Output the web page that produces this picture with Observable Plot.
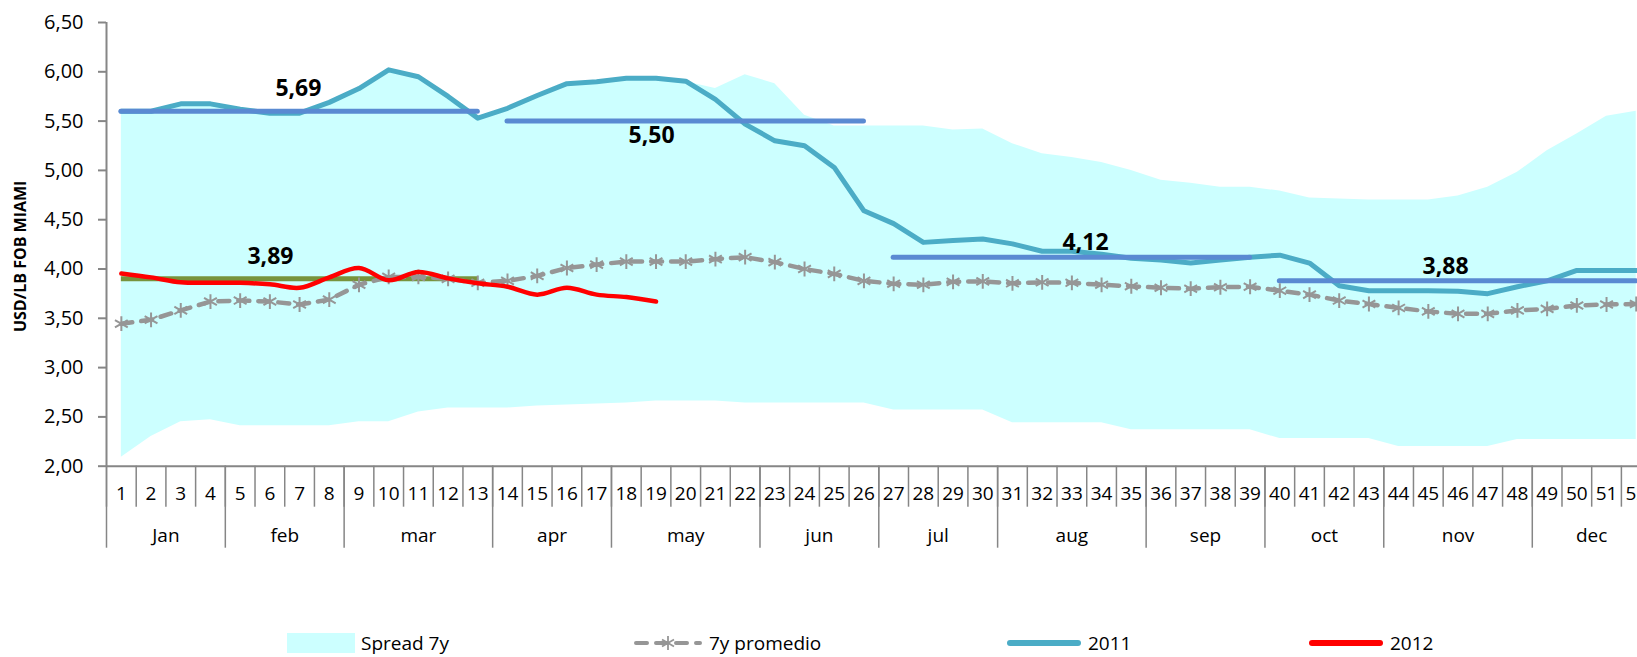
<!DOCTYPE html>
<html>
<head>
<meta charset="utf-8">
<script src="https://cdn.jsdelivr.net/npm/d3@7"></script>
<script src="https://cdn.jsdelivr.net/npm/@observablehq/plot@0.6"></script>
<style>
  html, body { margin: 0; padding: 0; background: white; overflow: hidden; }
  #wrap { position: relative; width: 1637px; height: 657px; overflow: hidden; font-family: 'Open Sans', sans-serif; }
  #legend { position: absolute; left: 0; top: 625px; width: 1637px; height: 32px; }
  .item { position: absolute; top: 4px; height: 28px; display: flex; align-items: center; font-size: 19px; line-height: 22px; color: #000; white-space: nowrap; }
  .item svg { display: block; margin-right: 6px; }
</style>
</head>
<body>
<div id="wrap">
  <div id="chart"></div>
  <div id="legend"></div>
</div>
<script>
// ---- data ----
const weeks = [1,2,3,4,5,6,7,8,9,10,11,12,13,14,15,16,17,18,19,20,21,22,23,24,25,26,
               27,28,29,30,31,32,33,34,35,36,37,38,39,40,41,42,43,44,45,46,47,48,49,50,51,52];
const monthNames = ["Jan","feb","mar","apr","may","jun","jul","aug","sep","oct","nov","dec"];
const monthWeeks = [4,4,5,4,5,4,4,5,4,4,5,4];
const yTicks = [2.0,2.5,3.0,3.5,4.0,4.5,5.0,5.5,6.0,6.5];

const spreadLow = [2.09,2.30,2.45,2.47,2.41,2.41,2.41,2.41,2.45,2.45,
                   2.55,2.59,2.59,2.59,2.61,2.62,2.63,2.64,2.66,2.66,
                   2.66,2.64,2.64,2.64,2.64,2.64,2.57,2.57,2.57,2.57,
                   2.44,2.44,2.44,2.44,2.37,2.37,2.37,2.37,2.37,2.28,
                   2.28,2.28,2.28,2.20,2.20,2.20,2.20,2.27,2.27,2.27,
                   2.27,2.27];
const spreadHigh = [5.60,5.60,5.67,5.67,5.62,5.60,5.60,5.69,5.83,6.02,
                    5.95,5.75,5.53,5.63,5.76,5.88,5.90,5.93,5.93,5.90,
                    5.83,5.97,5.88,5.56,5.45,5.45,5.45,5.45,5.41,5.42,
                    5.27,5.17,5.13,5.08,5.00,4.90,4.87,4.83,4.83,4.79,
                    4.72,4.71,4.70,4.70,4.70,4.74,4.83,4.98,5.20,5.37,
                    5.55,5.60];
const avg7y = [3.445,3.485,3.58,3.67,3.68,3.67,3.64,3.69,3.84,3.92,
               3.92,3.90,3.86,3.88,3.93,4.01,4.045,4.075,4.075,4.075,
               4.10,4.12,4.07,4.00,3.95,3.88,3.85,3.84,3.87,3.875,
               3.855,3.865,3.86,3.84,3.825,3.81,3.80,3.815,3.82,3.78,
               3.74,3.68,3.645,3.605,3.57,3.545,3.545,3.58,3.595,3.63,
               3.64,3.645];
const y2011 = [5.60,5.60,5.675,5.675,5.62,5.58,5.58,5.69,5.83,6.02,
               5.95,5.75,5.53,5.63,5.76,5.88,5.90,5.935,5.935,5.905,
               5.72,5.47,5.30,5.25,5.03,4.59,4.46,4.27,4.29,4.305,
               4.255,4.18,4.18,4.15,4.11,4.09,4.06,4.09,4.12,4.14,
               4.06,3.83,3.78,3.78,3.78,3.775,3.75,3.82,3.88,3.985,
               3.985,3.985];
const y2012 = [3.955,3.915,3.865,3.86,3.86,3.845,3.81,3.915,4.01,3.885,
               3.97,3.905,3.855,3.82,3.74,3.81,3.74,3.715,3.67];

// quarterly averages (horizontal segments)
const avg2011Start = [1,14,27,40];
const avg2011End   = [13,26,39,52];
const avg2011Value = [5.60,5.50,4.12,3.88];
const avg2012Start = [1];
const avg2012End   = [13];
const avg2012Value = [3.90];

// data labels
const labelText  = ["5,69","5,50","3,89","4,12","3,88"];
const labelWeek  = [6.96,18.85,6.02,33.46,45.58];
const labelValue = [5.83,5.354,4.127,4.27,4.025];

// ---- build tables ----
const rows = weeks.map((w,i) => ({week: w, low: spreadLow[i], high: spreadHigh[i], avg: avg7y[i], v2011: y2011[i]}));
const rows2012 = y2012.map((v,i) => ({week: weeks[i], v}));
const seg2011 = avg2011Value.map((v,i) => ({x1: avg2011Start[i], x2: avg2011End[i], v}));
const seg2012 = avg2012Value.map((v,i) => ({x1: avg2012Start[i], x2: avg2012End[i], v}));
const labels = labelText.map((t,i) => ({text: t, week: labelWeek[i], value: labelValue[i]}));

const weekBounds = weeks.map(w => w - 0.5).concat([weeks[weeks.length-1] + 0.5]);
let acc = 0;
const monthBounds = [0.5];
const monthCenters = [];
monthWeeks.forEach(n => { monthCenters.push(acc + 0.5 + n/2); acc += n; monthBounds.push(acc + 0.5); });
const monthByCenter = new Map(monthCenters.map((c,i) => [c, monthNames[i]]));

const gray = "#868686";
const fmt = d => d.toFixed(2).replace(".", ",");

const chart = Plot.plot({
  width: 1637,
  height: 625,
  marginLeft: 106,
  marginRight: 0,
  marginTop: 22,
  marginBottom: 159.3,
  x: {domain: [0.5, 52.5], range: [106, 1650.6], label: null},
  y: {domain: [2, 6.5], label: null},
  style: {fontFamily: "'Open Sans', sans-serif", fontSize: "19px", color: "black", background: "white", overflow: "hidden"},
  marks: [
    Plot.areaY(rows, {x: "week", y1: "low", y2: "high", fill: "#CCFFFF"}),
    // axes
    Plot.ruleX([0.5], {stroke: gray, strokeWidth: 2}),
    Plot.ruleY([2], {stroke: gray, strokeWidth: 2}),
    Plot.axisY({ticks: yTicks, tickSize: 8, tickPadding: 15, tickFormat: fmt, fontSize: 20, stroke: gray, strokeWidth: 2, label: null}),
    Plot.axisX({ticks: weekBounds, tickSize: 41, stroke: gray, strokeWidth: 1.5, fill: "none", label: null}),
    Plot.axisX({ticks: monthBounds, tickSize: 82, stroke: gray, strokeWidth: 1.5, fill: "none", label: null}),
    Plot.axisX({ticks: weeks, tickSize: 0, tickPadding: 20, tickFormat: d => String(d), fontSize: 19, label: null}),
    Plot.axisX({ticks: monthCenters, tickSize: 0, tickPadding: 62, tickFormat: d => monthByCenter.get(d), fontSize: 19, label: null}),
    // series
    Plot.line(rows, {x: "week", y: "v2011", stroke: "#4BACC6", strokeWidth: 5, strokeLinejoin: "round"}),
    Plot.ruleY(seg2011, {x1: "x1", x2: "x2", y: "v", stroke: "#5A8AD2", strokeWidth: 5, strokeLinecap: "round"}),
    Plot.ruleY(seg2012, {x1: "x1", x2: "x2", y: "v", stroke: "#77933C", strokeWidth: 5, strokeLinecap: "butt"}),
    Plot.line(rows, {x: "week", y: "avg", stroke: "#969696", strokeWidth: 4.5, strokeDasharray: "11,9", strokeLinecap: "round"}),
    Plot.dot(rows, {x: "week", y: "avg", symbol: "asterisk", r: 7, stroke: "#969696", strokeWidth: 2}),
    Plot.line(rows2012, {x: "week", y: "v", stroke: "#FF0000", strokeWidth: 4.5, curve: "catmull-rom", strokeLinecap: "round"}),
    Plot.text(labels, {x: "week", y: "value", text: "text", fontWeight: "bold", fontSize: 23}),
    Plot.text(["USD/LB FOB MIAMI"], {frameAnchor: "left", rotate: -90, dx: -86, dy: 12, textAnchor: "middle", lineAnchor: "middle", fontWeight: "bold", fontSize: 16})
  ]
});
document.getElementById("chart").appendChild(chart);

// ---- legend ----
const legendItems = [
  {name: "Spread 7y", left: 287, sw: `<svg width="68" height="20"><rect x="0" y="0" width="68" height="20" fill="#CCFFFF"/></svg>`},
  {name: "7y promedio", left: 633, sw: `<svg width="70" height="20"><line x1="3" y1="10" x2="67" y2="10" stroke="#969696" stroke-width="4" stroke-dasharray="11,9" stroke-linecap="round"/><g stroke="#969696" stroke-width="1.8"><line x1="35" y1="3" x2="35" y2="17"/><line x1="29" y1="6.5" x2="41" y2="13.5"/><line x1="29" y1="13.5" x2="41" y2="6.5"/></g></svg>`},
  {name: "2011", left: 1006, sw: `<svg width="76" height="20"><line x1="4" y1="10" x2="72" y2="10" stroke="#4BACC6" stroke-width="6" stroke-linecap="round"/></svg>`},
  {name: "2012", left: 1308, sw: `<svg width="76" height="20"><line x1="4" y1="10" x2="72" y2="10" stroke="#FF0000" stroke-width="6" stroke-linecap="round"/></svg>`}
];
const legend = document.getElementById("legend");
legendItems.forEach(it => {
  const d = document.createElement("div");
  d.className = "item";
  d.style.left = it.left + "px";
  d.innerHTML = it.sw + `<span>${it.name}</span>`;
  legend.appendChild(d);
});
</script>
</body>
</html>
